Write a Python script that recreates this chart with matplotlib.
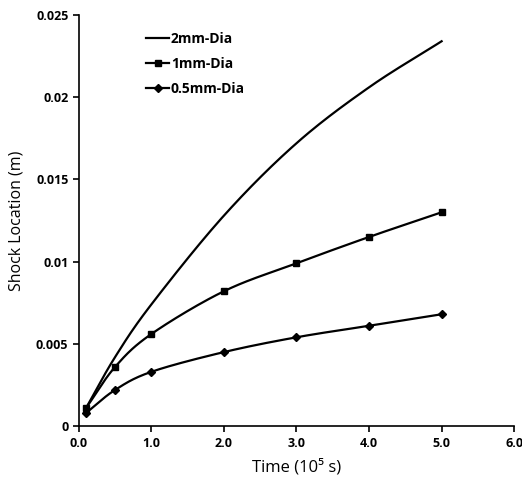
import numpy as np
import matplotlib.pyplot as plt

plt.rcParams['font.family'] = ['Open Sans', 'DejaVu Sans']

time = [0.1, 0.5, 1.0, 2.0, 3.0, 4.0, 5.0]
dia_2mm = [0.0011, 0.0042, 0.0074, 0.0128, 0.0172, 0.0206, 0.0234]
dia_1mm = [0.0011, 0.0036, 0.0056, 0.0082, 0.0099, 0.0115, 0.0130]
dia_05mm = [0.0008, 0.0022, 0.0033, 0.0045, 0.0054, 0.0061, 0.0068]

xticks = [0, 1, 2, 3, 4, 5, 6]
xlabels = ['0.0', '1.0', '2.0', '3.0', '4.0', '5.0', '6.0']
yticks = [0, 0.005, 0.01, 0.015, 0.02, 0.025]
ylabels = ['0', '0.005', '0.01', '0.015', '0.02', '0.025']


def smooth(x, y, n=30):
    # catmull-rom path through the points, like excel's smoothed line
    x = np.asarray(x, float)
    y = np.asarray(y, float)
    px = np.concatenate([[2 * x[0] - x[1]], x, [2 * x[-1] - x[-2]]])
    py = np.concatenate([[2 * y[0] - y[1]], y, [2 * y[-1] - y[-2]]])
    xs, ys = [], []
    t = np.linspace(0, 1, n)
    for i in range(1, len(px) - 2):
        for p, out in ((px, xs), (py, ys)):
            p0, p1, p2, p3 = p[i - 1], p[i], p[i + 1], p[i + 2]
            out.extend(0.5 * (2 * p1 + (-p0 + p2) * t
                              + (2 * p0 - 5 * p1 + 4 * p2 - p3) * t ** 2
                              + (-p0 + 3 * p1 - 3 * p2 + p3) * t ** 3))
    return xs, ys


fig = plt.figure(figsize=(5.22, 4.82), dpi=100)
ax = fig.add_axes([0.151, 0.116, 0.834, 0.853])

for y, mk, ms, lab in [(dia_2mm, None, 0, '2mm-Dia'),
                       (dia_1mm, 's', 4.5, '1mm-Dia'),
                       (dia_05mm, 'D', 4.5, '0.5mm-Dia')]:
    sx, sy = smooth(time, y)
    ax.plot(sx, sy, color='black', lw=1.6)
    if mk:
        ax.plot(time, y, linestyle='none', marker=mk, ms=ms, color='black')
    ax.plot([], [], color='black', lw=1.6, marker=mk, ms=ms, label=lab)

ax.set_xlim(0, 6)
ax.set_ylim(0, 0.025)
ax.set_xticks(xticks)
ax.set_xticklabels(xlabels, fontweight='bold', fontsize=9)
ax.set_yticks(yticks)
ax.set_yticklabels(ylabels, fontweight='bold', fontsize=9)
ax.spines['top'].set_visible(False)
ax.spines['right'].set_visible(False)
ax.spines['left'].set_linewidth(1.2)
ax.spines['bottom'].set_linewidth(1.2)
ax.tick_params(direction='out', length=4, width=1.2)

ax.set_xlabel('Time (10\u2075 s)', fontsize=12, labelpad=7)
ax.set_ylabel('Shock Location (m)', fontsize=11.5, labelpad=8)

leg = ax.legend(loc='upper left', bbox_to_anchor=(0.125, 0.99), frameon=False,
                handlelength=1.7, handletextpad=0.1, labelspacing=0.8,
                prop={'weight': 'bold', 'size': 10})

fig.savefig('out.png', dpi=100)
